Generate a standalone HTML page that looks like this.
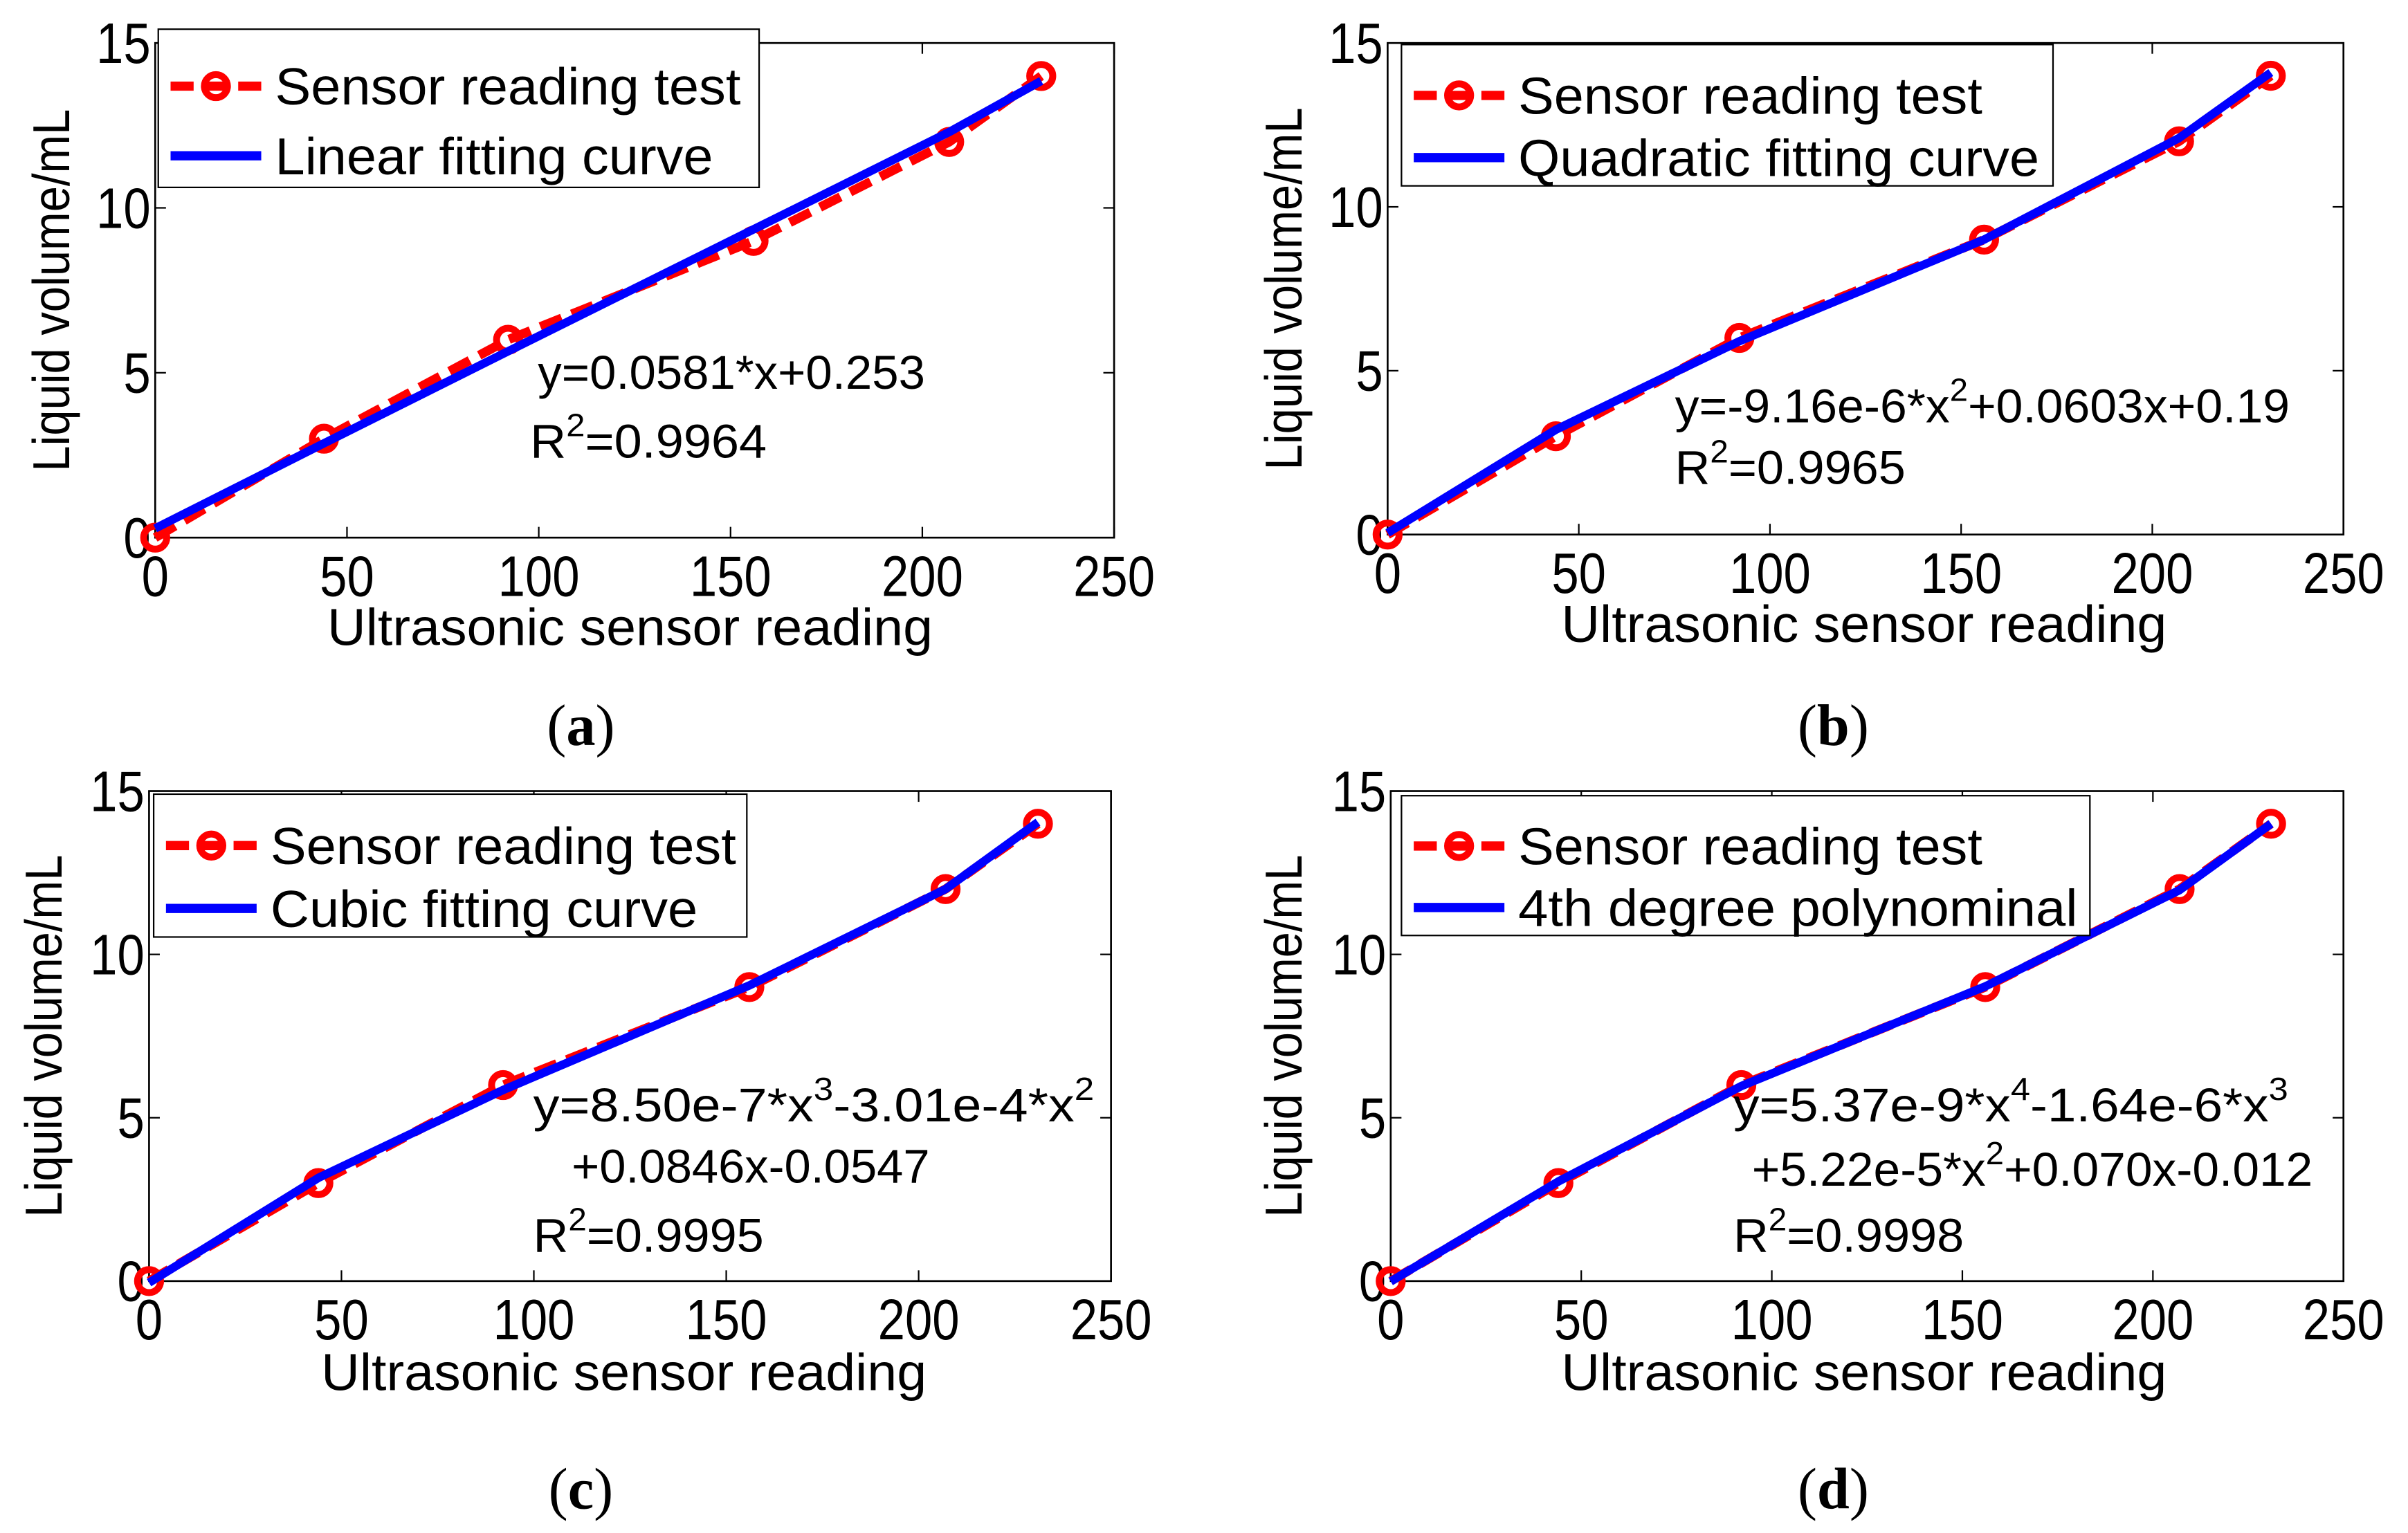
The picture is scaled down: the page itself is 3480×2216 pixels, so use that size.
<!DOCTYPE html>
<html><head><meta charset="utf-8">
<style>html,body{margin:0;padding:0;background:#fff}svg{display:block}</style>
</head><body>
<svg id="fig" xmlns="http://www.w3.org/2000/svg" width="3480" height="2216" viewBox="0 0 1567 998" preserveAspectRatio="none" font-family="'Liberation Sans', Arial, sans-serif"></svg>
<script>
// Data
const sensorX = [0, 44, 92, 156, 207, 231];
const volumeY = [0, 3, 6, 9, 12, 14];
const linFit = [0.28, 2.86, 5.65, 9.35, 12.3, 13.85];
const quadFit = [0.05, 3.2, 5.9, 9.0, 12.1, 14.1];
const cubicFit = [-0.05, 3.16, 5.85, 9.05, 12.0, 14.05];
const quartFit = [-0.01, 3.05, 5.97, 9.02, 11.97, 14.0];
const xTicks = [0, 50, 100, 150, 200, 250];
const yTicks = [0, 5, 10, 15];

const NS = 'http://www.w3.org/2000/svg';
const svg = document.getElementById('fig');
function mk(tag, attrs, parent, text) {
  const e = document.createElementNS(NS, tag);
  for (const k in attrs) e.setAttribute(k, attrs[k]);
  if (text !== undefined) e.textContent = text;
  (parent || svg).appendChild(e);
  return e;
}

const panels = [
  {id:'a', L:101, R:725, T:28, B:350, fit:linFit, fitName:'Linear fitting curve',
   leg:[103,19,494,122], legW:[303,285], ylx:33, xlc:410, xlb:420, cap:[378,485],
   eq:[{x:350,y:253,w:252,parts:[['y=0.0581*x+0.253']]},{x:345,y:298,w:154,parts:[['R'],['2','sup'],['=0.9964']]}]},
  {id:'b', L:903, R:1525, T:28, B:348, fit:quadFit, fitName:'Quadratic fitting curve',
   leg:[912,29,1336,121], legW:[302,339], ylx:835, xlc:1213, xlb:418, cap:[1193,485],
   eq:[{x:1090,y:275,w:400,parts:[['y=-9.16e-6*x'],['2','sup'],['+0.0603x+0.19']]},{x:1090,y:315,w:150,parts:[['R'],['2','sup'],['=0.9965']]}]},
  {id:'c', L:97, R:723, T:515, B:834, fit:cubicFit, fitName:'Cubic fitting curve',
   leg:[100,517,486,610], legW:[303,278], ylx:28, xlc:406, xlb:905, cap:[378,982],
   eq:[{x:347,y:730,w:365,parts:[['y=8.50e-7*x'],['3','sup'],['-3.01e-4*x'],['2','sup']]},{x:372,y:770,w:233,parts:[['+0.0846x-0.0547']]},{x:347,y:815,w:150,parts:[['R'],['2','sup'],['=0.9995']]}]},
  {id:'d', L:905, R:1525, T:515, B:834, fit:quartFit, fitName:'4th degree polynominal',
   leg:[912,518,1360,609], legW:[302,364], ylx:835, xlc:1213, xlb:905, cap:[1193,982],
   eq:[{x:1128,y:730,w:361,parts:[['y=5.37e-9*x'],['4','sup'],['-1.64e-6*x'],['3','sup']]},{x:1140,y:772,w:365,parts:[['+5.22e-5*x'],['2','sup'],['+0.070x-0.012']]},{x:1128,y:815,w:150,parts:[['R'],['2','sup'],['=0.9998']]}]}
];

panels.forEach(p => {
  const g = mk('g', {});
  
  
  const sx = v => p.L + (v - xTicks[0]) / (xTicks[xTicks.length-1] - xTicks[0]) * (p.R - p.L);
  const sy = v => p.B - (v - yTicks[0]) / (yTicks[yTicks.length-1] - yTicks[0]) * (p.B - p.T);
  const box = mk('rect', {x:p.L, y:p.T, width:p.R-p.L, height:p.B-p.T, fill:'none', stroke:'#000', 'stroke-width':1.2}, g);
  
  
  xTicks.forEach(t => {
    const x = sx(t);
    mk('line', {x1:x, x2:x, y1:p.B, y2:p.B-7, stroke:'#000', 'stroke-width':1}, g);
    mk('line', {x1:x, x2:x, y1:p.T, y2:p.T+7, stroke:'#000', 'stroke-width':1}, g);
    const tl = mk('text', {x:x, y:p.B+38, 'text-anchor':'middle', 'font-size':37, transform:`translate(${x},0) scale(0.86,1) translate(${-x},0)`}, g, String(t));
    
    
  });
  yTicks.forEach(t => {
    const y = sy(t);
    mk('line', {x1:p.L, x2:p.L+7, y1:y, y2:y, stroke:'#000', 'stroke-width':1}, g);
    mk('line', {x1:p.R, x2:p.R-7, y1:y, y2:y, stroke:'#000', 'stroke-width':1}, g);
    const xx = p.L - 3;
    const tl = mk('text', {x:xx, y:y+13, 'text-anchor':'end', 'font-size':37, transform:`translate(${xx},0) scale(0.86,1) translate(${-xx},0)`}, g, String(t));
    
    
  });
  const fitPts = sensorX.map((x, i) => sx(x) + ',' + sy(p.fit[i])).join(' ');
  const dataPts = sensorX.map((x, i) => sx(x) + ',' + sy(volumeY[i])).join(' ');
  const dl = mk('polyline', {points:dataPts, fill:'none', stroke:'#ff0000', 'stroke-width':6, 'stroke-dasharray':'15,7'}, g);
  
  
  sensorX.forEach((x, i) => {
    const c = mk('circle', {cx:sx(x), cy:sy(volumeY[i]), r:7.5, fill:'none', stroke:'#ff0000', 'stroke-width':4.5}, g);
    
    
  });
  const fl = mk('polyline', {points:fitPts, fill:'none', stroke:'#0000ff', 'stroke-width':5.5, 'stroke-linejoin':'round'}, g);
  
  
  // legend
  const [lx1, ly1, lx2, ly2] = p.leg;
  const lg = mk('g', {}, g);
  
  
  mk('rect', {x:lx1, y:ly1, width:lx2-lx1, height:ly2-ly1, fill:'#fff', stroke:'#000', 'stroke-width':1}, lg);
  const r1 = ly1 + (ly2-ly1)*0.36, r2 = ly1 + (ly2-ly1)*0.8;
  const sx1 = lx1 + 8, sx2 = lx1 + 67, tx = lx1 + 76;
  mk('line', {x1:sx1, x2:sx2, y1:r1, y2:r1, stroke:'#ff0000', 'stroke-width':6, 'stroke-dasharray':'15,7'}, lg);
  mk('circle', {cx:(sx1+sx2)/2, cy:r1, r:7.5, fill:'none', stroke:'#ff0000', 'stroke-width':4.5}, lg);
  const e1 = mk('text', {x:tx, y:r1+12, 'font-size':34, textLength:p.legW[0], lengthAdjust:'spacingAndGlyphs'}, lg, 'Sensor reading test');
  
  
  mk('line', {x1:sx1, x2:sx2, y1:r2, y2:r2, stroke:'#0000ff', 'stroke-width':6}, lg);
  const e2 = mk('text', {x:tx, y:r2+12, 'font-size':34, textLength:p.legW[1], lengthAdjust:'spacingAndGlyphs'}, lg, p.fitName);
  
  
  // equation annotations
  p.eq.forEach(line => {
    const t = mk('text', {x:line.x, y:line.y, 'font-size':31, textLength:line.w, lengthAdjust:'spacingAndGlyphs'}, g);
    
    
    line.parts.forEach(pt => {
      if (pt[1] === 'sup') mk('tspan', {'font-size':21, dy:-14}, t, pt[0]);
      else mk('tspan', t.childNodes.length && t.lastChild.getAttribute('dy') === '-14' ? {dy:14} : {}, t, pt[0]);
    });
  });
  // axis titles
  const yl = mk('text', {x:0, y:0, 'font-size':34, 'text-anchor':'middle', textLength:236, lengthAdjust:'spacingAndGlyphs',
    transform:`translate(${p.ylx+12},${(p.T+p.B)/2}) rotate(-90)`}, g, 'Liquid volume/mL');
  
  
  const xl = mk('text', {x:p.xlc, y:p.xlb, 'font-size':34, 'text-anchor':'middle', textLength:394, lengthAdjust:'spacingAndGlyphs'}, g, 'Ultrasonic sensor reading');
  
  
  const cp = mk('text', {x:p.cap[0], y:p.cap[1], 'font-size':38, 'font-family':"'Liberation Serif', serif", 'text-anchor':'middle'}, g);
  
  
  mk('tspan', {}, cp, '(');
  mk('tspan', {'font-weight':'bold'}, cp, p.id);
  mk('tspan', {}, cp, ')');
});
</script>
</body></html>
